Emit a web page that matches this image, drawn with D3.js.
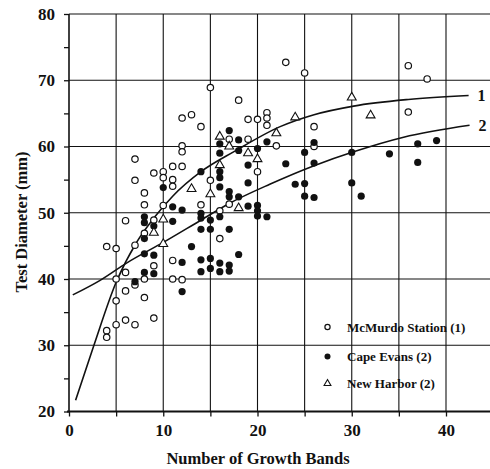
<!DOCTYPE html>
<html>
<head>
<meta charset="utf-8">
<script src="https://cdn.jsdelivr.net/npm/d3@7"></script>
<style>
  html, body { margin: 0; padding: 0; background: #fff; }
  svg { display: block; }
  text { font-family: "Liberation Serif", "Times New Roman", serif; font-weight: bold; fill: #111; }
</style>
</head>
<body>
<svg id="chart" width="490" height="469"></svg>
<script>
// ---- data ----
const xTicks = [0, 5, 10, 15, 20, 25, 30, 35, 40];
const xTickLabels = ["0", "", "10", "", "20", "", "30", "", "40"];
const yTicks = [20, 25, 30, 35, 40, 45, 50, 55, 60, 65, 70, 75, 80];
const yTickLabels = ["20", "", "30", "", "40", "", "50", "", "60", "", "70", "", "80"];

const seriesNames = ["McMurdo Station (1)", "Cape Evans (2)", "New Harbor (2)"];

const mcmurdo = [
  [15,68.9],[18,67],[12,64.3],[13,64.8],[14,63],[19,64.1],[20,64.1],[21,65.1],[21,64.3],[21,63.2],
  [22,60.1],[17,61.1],[19,61.1],[20,56.2],[15,54.9],[17,51.3],[16,50.3],[14,51.2],[16,46.1],
  [12,60.1],[12,59.2],[7,58.1],[11,57],[12,57],[9,56],[10,56.2],[10,55.3],[7,54.9],[11,55],[11,54],
  [8,53],[8,51.2],[10,51.1],[6,48.8],[9,48.9],[8,46.9],[4,44.9],[5,44.6],[7,45.1],[11,42.8],[9,42],
  [5,40],[6,41],[8,40],[11,40],[12,39.9],[6,38.2],[7,39.1],[8,37.2],[5,36.7],[6,33.8],[7,33.1],
  [5,33.1],[9,34.1],[4,32.2],[4,31.2],[23,72.7],[25,71.1],[36,72.2],[38,70.2],[36,65.2],[26,63],[26,60]
];

const capeEvans = [
  [17,62.4],[16,60.4],[18,61],[21,60.7],[20,59.7],[18,59.4],[16,59],[19,57.2],[16,56.2],[16,55.3],
  [14,56.2],[19,54.5],[16,53.9],[17,53.2],[17,52.4],[18,52.4],[19,51],[20,51.1],[20,50.3],[20,49.5],
  [21,49.4],[14,49.9],[14,49.2],[15,48.9],[16,49.4],[14,47.5],[15,47.5],[17,47.5],[13,44.9],[18,43.7],
  [14,42.9],[15,43.1],[16,42.4],[17,42.1],[14,41.1],[15,41.6],[16,41.1],[17,41.2],[12,42.5],[12,38.1],
  [12,50.4],[11,50.9],[8,49.4],[8,48.5],[9,48],[11,48.7],[8,46.1],[8,43.8],[9,43.6],[8,41],[9,40.8],
  [7,39.6],[10,53.8],[26,60.6],[25,59.1],[23,57.4],[26,57.5],[30,59.1],[34,58.9],[37,60.4],[39,60.9],
  [37,57.6],[24,54.3],[25,54.4],[25,52.5],[26,52.3],[30,54.5],[31,52.5]
];

const newHarbor = [
  [16,61.5],[17,60],[19,59],[20,58.1],[16,57.2],[13,53.6],[15,52.8],[18,50.7],[10,49],[9,47],
  [10,45.3],[22,62],[24,64.4],[30,67.4],[32,64.7]
];

// fitted growth curves
const curve1 = [[0.7,21.7],[2.6,29.8],[5,39.5],[7.2,45.6],[9,49.2],[11,52.5],[14,56.2],[17.6,59.3],
  [22.4,63],[26,64.8],[30.2,66.1],[36,67.1],[42.4,67.7]];
const curve2 = [[0.4,37.6],[3.3,39.8],[6.1,42.4],[10.1,45.6],[13.9,48.8],[17,51.4],[21.3,54.3],
  [26,57.1],[30.2,59.2],[35.5,61.4],[42.5,63.2]];
const curveLabels = ["1", "2"];

// ---- layout ----
const svg = d3.select("#chart");
const padL = 69, padR = 490, padT = 14, padB = 411.5;
const x = d3.scaleLinear().domain([0, 40]).range([padL, 446]);
const y = d3.scaleLinear().domain([20, 80]).range([padB, padT]);
const xMax = x.invert(padR);

// gridlines
const grid = svg.append("g").attr("stroke", "#111").attr("stroke-width", 1.1);
grid.selectAll("line.v").data(xTicks.filter(d => d > 0)).join("line")
  .attr("class", "v")
  .attr("x1", d => x(d)).attr("x2", d => x(d))
  .attr("y1", y(80)).attr("y2", y(20));
grid.selectAll("line.h").data([30, 40, 50, 60, 70, 80]).join("line")
  .attr("class", "h")
  .attr("x1", x(0)).attr("x2", x(xMax))
  .attr("y1", d => y(d)).attr("y2", d => y(d));

// axes
const xAxis = d3.axisBottom(x).tickValues(xTicks)
  .tickFormat((d, i) => xTickLabels[i]).tickSize(5).tickPadding(7);
const gx = svg.append("g").attr("transform", `translate(0,${padB})`).call(xAxis);
gx.select(".domain").remove();
gx.append("line").attr("x1", x(0) - 2).attr("x2", x(xMax)).attr("y1", 0).attr("y2", 0)
  .attr("stroke", "#111").attr("stroke-width", 2.2);
gx.selectAll(".tick line").attr("stroke", "#111").attr("stroke-width", 1.3);
gx.selectAll("text").style("font-size", "17px").attr("fill", "#111");

const yAxis = d3.axisLeft(y).tickValues(yTicks)
  .tickFormat((d, i) => yTickLabels[i]).tickSize(5).tickPadding(9);
const gy = svg.append("g").attr("transform", `translate(${padL},0)`).call(yAxis);
gy.select(".domain").remove();
gy.append("line").attr("x1", 0).attr("x2", 0).attr("y1", y(80)).attr("y2", y(20))
  .attr("stroke", "#111").attr("stroke-width", 1.6);
gy.selectAll(".tick line").attr("stroke", "#111").attr("stroke-width", 1.3);
gy.selectAll("text").style("font-size", "17px").attr("fill", "#111");

// curves
const line = d3.line().x(d => x(d[0])).y(d => y(d[1])).curve(d3.curveMonotoneX);
[curve1, curve2].forEach(c => {
  svg.append("path").datum(c).attr("d", line)
    .attr("fill", "none").attr("stroke", "#111").attr("stroke-width", 1.6);
});
[curve1, curve2].forEach((c, i) => {
  const last = c[c.length - 1];
  svg.append("text").attr("x", x(last[0]) + 9).attr("y", y(last[1]) + 5.5)
    .style("font-size", "16px").text(curveLabels[i]);
});

// markers
const tri = d3.symbol(d3.symbolTriangle, 34);
svg.append("g").selectAll("circle").data(mcmurdo).join("circle")
  .attr("cx", d => x(d[0])).attr("cy", d => y(d[1])).attr("r", 3.2)
  .attr("fill", "#fff").attr("stroke", "#111").attr("stroke-width", 1.2);
svg.append("g").selectAll("circle").data(capeEvans).join("circle")
  .attr("cx", d => x(d[0])).attr("cy", d => y(d[1])).attr("r", 3.6)
  .attr("fill", "#111");
svg.append("g").selectAll("path").data(newHarbor).join("path")
  .attr("d", tri).attr("transform", d => `translate(${x(d[0])},${y(d[1])})`)
  .attr("fill", "#fff").attr("stroke", "#111").attr("stroke-width", 1.1);

// legend
const lg = svg.append("g");
const rows = [327, 356.5, 383.5];
lg.append("circle").attr("cx", 327.5).attr("cy", rows[0]).attr("r", 2.6)
  .attr("fill", "#fff").attr("stroke", "#111").attr("stroke-width", 1.2);
lg.append("circle").attr("cx", 327.5).attr("cy", rows[1]).attr("r", 3)
  .attr("fill", "#111");
lg.append("path").attr("d", d3.symbol(d3.symbolTriangle, 20))
  .attr("transform", `translate(327.5,${rows[2]})`)
  .attr("fill", "#fff").attr("stroke", "#111").attr("stroke-width", 1.1);
seriesNames.forEach((s, i) => {
  lg.append("text").attr("x", 347).attr("y", rows[i] + 4.5)
    .style("font-size", "13px").text(s);
});

// axis titles
svg.append("text").attr("x", 258).attr("y", 464).attr("text-anchor", "middle")
  .style("font-size", "16.5px").text("Number of Growth Bands");
svg.append("text").attr("transform", "translate(27,222) rotate(-90)")
  .attr("text-anchor", "middle").style("font-size", "16.5px").text("Test Diameter (mm)");
</script>
</body>
</html>
